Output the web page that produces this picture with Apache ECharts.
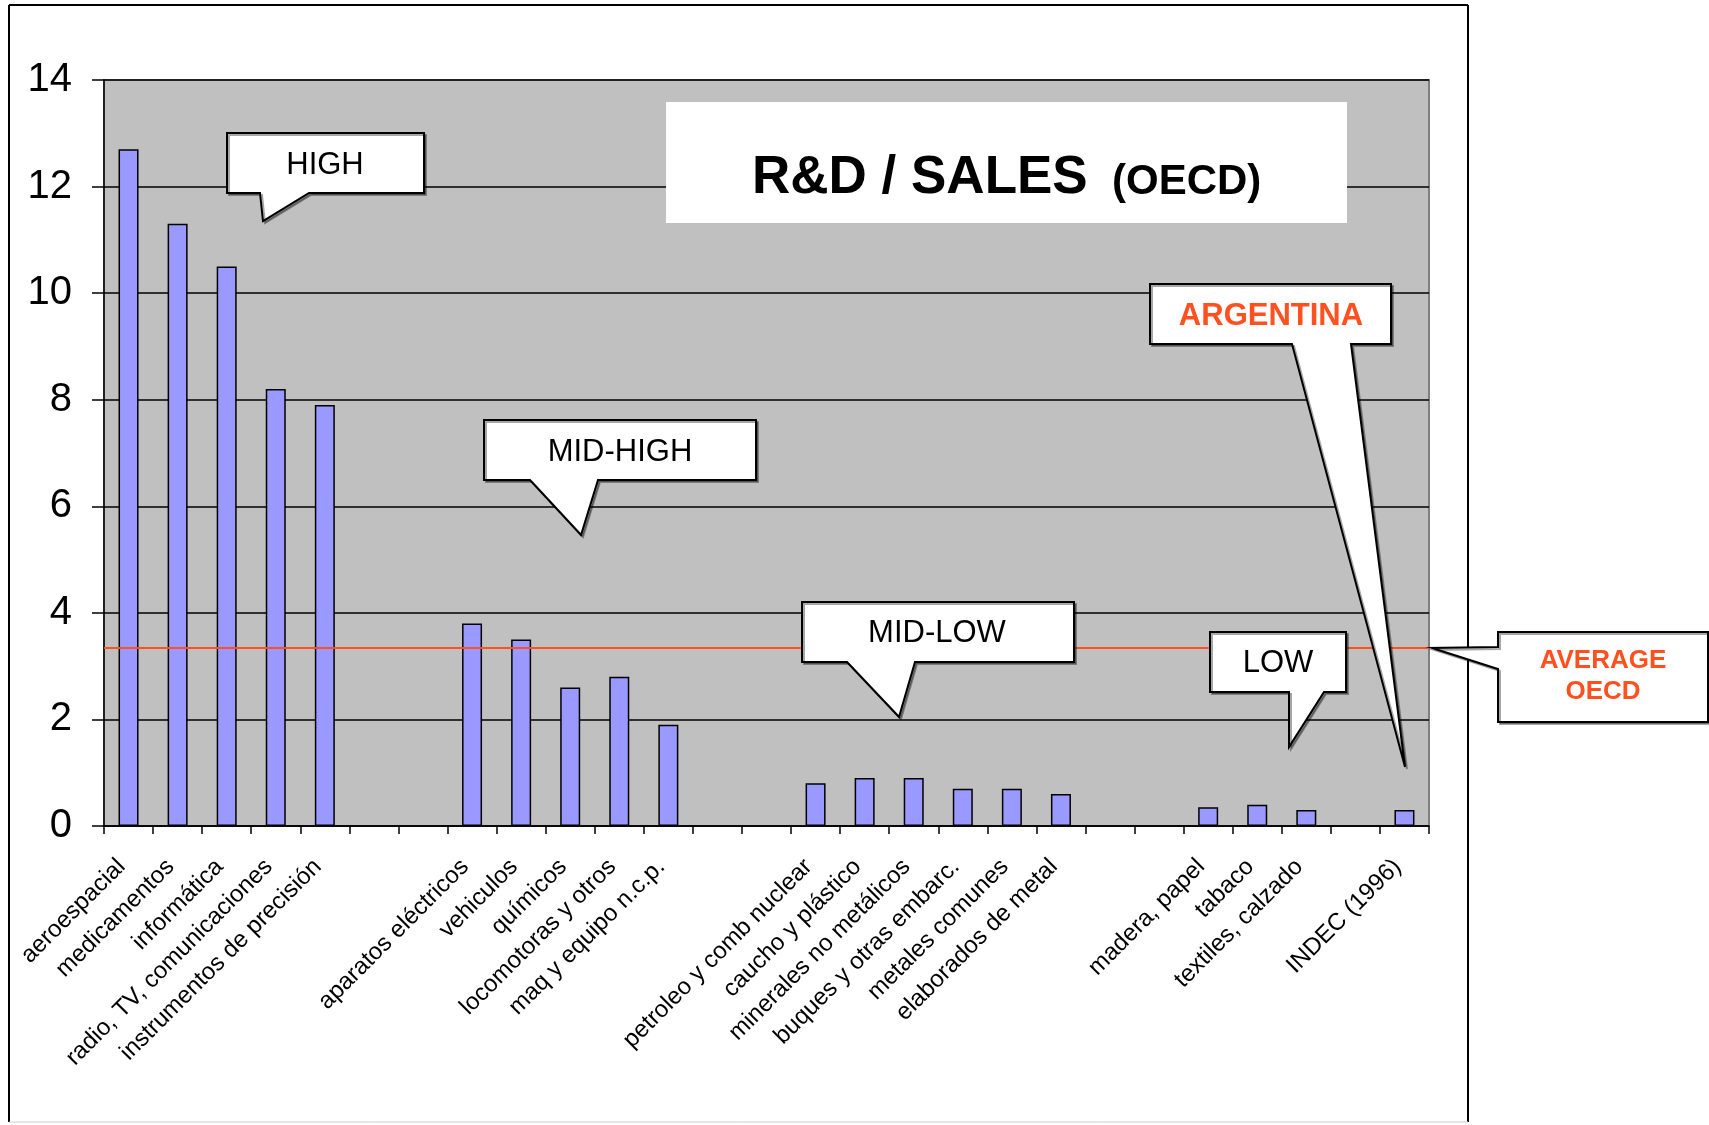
<!doctype html>
<html lang="es">

<head>
    <meta charset="UTF-8">
    <meta name="viewport" content="width=device-width, initial-scale=1.0">
    <title>R&D / SALES (OECD)</title>
    <script src="https://cdn.jsdelivr.net/npm/echarts@6.0.0/dist/echarts.min.js"></script>
</head>
<style>
    html, body {
        margin: 0;
        padding: 0;
        background: #fff;
    }
    #rdChart {
        width: 1709px;
        height: 1125px;
    }
</style>
<body>
    <div id="rdChart"></div>
</body>

<script>
    //=================== datos ==================
    // sectores (los huecos separan HIGH / MID-HIGH / MID-LOW / LOW / INDEC)
    var sectores = [
        'aeroespacial', 'medicamentos', 'informática', 'radio, TV, comunicaciones', 'instrumentos de precisión',
        '', '',
        'aparatos eléctricos', 'vehiculos', 'químicos', 'locomotoras y otros', 'maq y equipo n.c.p.',
        '', '',
        'petroleo y comb nuclear', 'caucho y plástico', 'minerales no metálicos', 'buques y otras embarc.', 'metales comunes', 'elaborados de metal',
        '', '',
        'madera, papel', 'tabaco', 'textiles, calzado',
        '',
        'INDEC (1996)'
    ];
    var idVentas = [
        12.7, 11.3, 10.5, 8.2, 7.9,
        null, null,
        3.8, 3.5, 2.6, 2.8, 1.9,
        null, null,
        0.8, 0.9, 0.9, 0.7, 0.7, 0.6,
        null, null,
        0.35, 0.4, 0.3,
        null,
        0.3
    ];
    var promedioOCDE = 3.35;
    var ejeY = [0, 14, 2]; // min, max, intervalo

    var naranja = '#FF5020';
    var fuente = 'Liberation Sans, Arial, sans-serif';

    // globo con cola: caja + punta
    function globo(puntos) {
        return {
            type: 'polygon',
            z: 100,
            shape: { points: puntos },
            style: {
                fill: '#fff',
                stroke: '#000',
                lineWidth: 2,
                shadowColor: 'rgba(0,0,0,0.35)',
                shadowOffsetX: 2,
                shadowOffsetY: 2
            }
        };
    }
    function texto(x, y, t, size, color, weight) {
        return {
            type: 'text',
            z: 101,
            x: x,
            y: y,
            style: {
                text: t,
                font: (weight || 'normal') + ' ' + size + 'px ' + fuente,
                fill: color || '#000',
                align: 'center',
                verticalAlign: 'middle'
            }
        };
    }

    var rdChart = echarts.init(document.getElementById('rdChart'));
    var opcion = {
        backgroundColor: '#fff',
        animation: false,
        textStyle: { fontFamily: fuente },
        grid: {
            left: 104,
            right: 280,
            top: 80,
            bottom: 299,
            show: true,
            backgroundColor: '#C0C0C0',
            borderColor: '#808080',
            borderWidth: 2
        },
        xAxis: {
            type: 'category',
            data: sectores,
            axisLine: { lineStyle: { color: '#000', width: 1.5 } },
            axisTick: { show: true, interval: 0, alignWithLabel: false, length: 8, lineStyle: { color: '#000', width: 1.5 } },
            axisLabel: {
                interval: 0,
                rotate: 45,
                margin: 30,
                padding: [0, 10, 0, 0],
                fontSize: 24,
                color: '#000',
                fontFamily: fuente
            }
        },
        yAxis: {
            type: 'value',
            min: ejeY[0],
            max: ejeY[1],
            interval: ejeY[2],
            axisLine: { show: true, lineStyle: { color: '#000', width: 1.5 } },
            axisTick: { show: true, length: 12, lineStyle: { color: '#000', width: 1.5 } },
            axisLabel: { fontSize: 40, color: '#000', margin: 32, fontFamily: fuente },
            splitLine: { lineStyle: { color: '#000', width: 1.5 } }
        },
        series: [{
            name: 'R&D / SALES',
            type: 'bar',
            data: idVentas,
            barWidth: 20,
            itemStyle: { color: '#9999FF', borderColor: '#000', borderWidth: 1.5 },
            markLine: {
                silent: true,
                symbol: 'none',
                label: { show: false },
                lineStyle: { color: naranja, width: 2, type: 'solid' },
                data: [{ yAxis: promedioOCDE }]
            }
        }],
        graphic: [
            // marco exterior
            { type: 'line', z: 50, shape: { x1: 9, y1: 5, x2: 1468, y2: 5 }, style: { stroke: '#000', lineWidth: 2 } },
            { type: 'line', z: 50, shape: { x1: 9, y1: 5, x2: 9, y2: 1122 }, style: { stroke: '#000', lineWidth: 2 } },
            { type: 'line', z: 50, shape: { x1: 1468, y1: 5, x2: 1468, y2: 1122 }, style: { stroke: '#000', lineWidth: 2 } },
            { type: 'line', z: 50, shape: { x1: 9, y1: 1122, x2: 1468, y2: 1122 }, style: { stroke: '#ccc', lineWidth: 1 } },

            // titulo
            { type: 'rect', z: 90, shape: { x: 666, y: 102, width: 681, height: 121 }, style: { fill: '#fff' } },
            { type: 'text', z: 91, x: 752, y: 178, style: { text: 'R&D / SALES', font: 'bold 53px ' + fuente, fill: '#000', align: 'left', verticalAlign: 'middle' } },
            { type: 'text', z: 91, x: 1112, y: 182, style: { text: '(OECD)', font: 'bold 42px ' + fuente, fill: '#000', align: 'left', verticalAlign: 'middle' } },

            // HIGH
            globo([[227, 133], [424, 133], [424, 193], [309, 193], [263, 221], [260, 193], [227, 193]]),
            texto(325, 165, 'HIGH', 31),
            // MID-HIGH
            globo([[484, 420], [756, 420], [756, 480], [598, 480], [581, 535], [530, 480], [484, 480]]),
            texto(620, 452, 'MID-HIGH', 31),
            // MID-LOW
            globo([[802, 602], [1074, 602], [1074, 662], [915, 662], [899, 717], [847, 662], [802, 662]]),
            texto(937, 633, 'MID-LOW', 31),
            // LOW
            globo([[1210, 632], [1346, 632], [1346, 692], [1324, 692], [1289, 747], [1289, 692], [1210, 692]]),
            texto(1278, 663, 'LOW', 31),
            // ARGENTINA
            globo([[1150, 284], [1391, 284], [1391, 344], [1351, 344], [1405, 767], [1292, 344], [1150, 344]]),
            texto(1271, 316, 'ARGENTINA', 31, naranja, 'bold'),
            // AVERAGE OECD
            globo([[1498, 632], [1708, 632], [1708, 722], [1498, 722], [1498, 669], [1432, 648], [1498, 647]]),
            texto(1603, 661, 'AVERAGE', 26, naranja, 'bold'),
            texto(1603, 692, 'OECD', 26, naranja, 'bold')
        ]
    };
    rdChart.setOption(opcion);
</script>

</html>
